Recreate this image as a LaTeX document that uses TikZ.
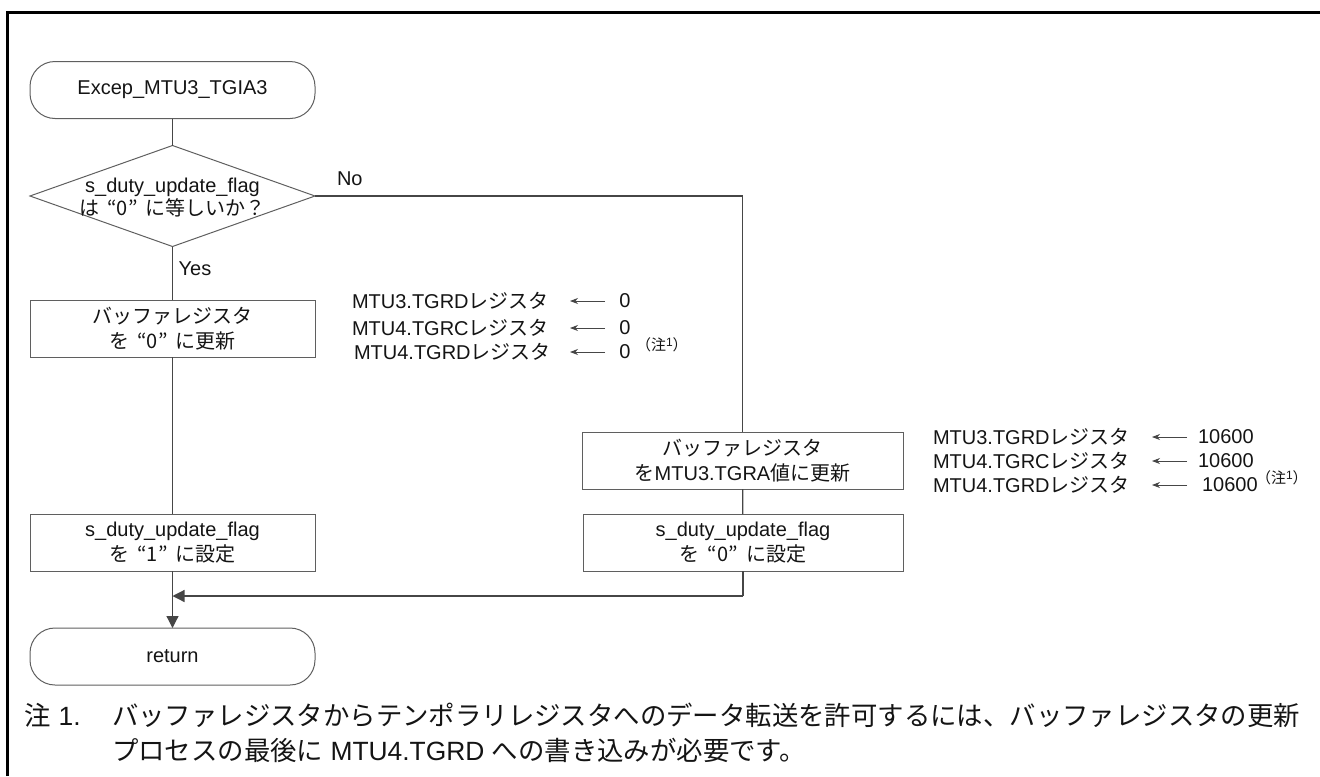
\documentclass[tikz,border=0pt]{standalone}
\usepackage{fontspec}
\setmainfont{Liberation Sans}
\newfontfamily\jp{Noto Sans CJK JP}
\usetikzlibrary{shapes.geometric,arrows.meta}
\definecolor{ln}{RGB}{70,70,70}
\definecolor{bd}{RGB}{95,95,95}
\definecolor{tx}{RGB}{20,20,20}
\newcommand\jpquote[1]{\hspace{0.4em}“#1”\hspace{0.4em}}
\begin{document}
\begin{tikzpicture}[x=0.5pt,y=-0.5pt,
  every node/.style={inner sep=0pt, outer sep=0pt, text=tx, font=\fontsize{10}{12.5}\selectfont},
  term/.style={draw=bd, line width=0.5pt, rounded corners=12.5pt, minimum width=142.5pt, minimum height=28.5pt, align=center},
  procbox/.style={draw=bd, line width=0.5pt, minimum height=28.5pt, align=center},
  conn/.style={draw=ln, line width=0.6pt},
  arr/.style={conn, -{Triangle[length=6pt,width=6pt]}},
  ann/.style={anchor=west},
  annarr/.style={draw=ln, line width=0.4pt, -{Stealth[length=4pt,width=3pt]}},
  notefont/.style={font=\fontsize{13.2}{16}\selectfont},
  supnote/.style={anchor=west, font=\fontsize{7.5}{8}\selectfont}
]
\useasboundingbox (0,0) rectangle (1320,776);
\coordinate (fbl) at (7,776);
\coordinate (ftl) at (7,12);
\coordinate (ftr) at (1320,12);
\draw[line width=1.5pt, black] (fbl) -- (ftl) -- (ftr);

% flow nodes
\node[term] (start) at (172.5,90) {Excep\_MTU3\_TGIA3};
\node[diamond, draw=bd, line width=0.5pt, minimum width=142.5pt, minimum height=50.5pt] (dec) at (172.5,196) {};
\node[align=center, font=\fontsize{10}{11.5}\selectfont] (dect) at (172.5,198) {s\_duty\_update\_flag\\{\jp は\jpquote{0}に等しいか？}};
\node[procbox, minimum width=142.5pt] (b1) at (172.5,328.5) {{\jp バッファレジスタ}\\{\jp を\jpquote{0}に更新}};
\node[procbox, minimum width=142.5pt] (b2) at (172.5,542.5) {s\_duty\_update\_flag\\{\jp を\jpquote{1}に設定}};
\node[procbox, minimum width=160.5pt] (r1) at (742.5,460.5) {{\jp バッファレジスタ}\\{\jp を}MTU3.TGRA{\jp 値に更新}};
\node[procbox, minimum width=160pt] (r2) at (743,542.5) {s\_duty\_update\_flag\\{\jp を\jpquote{0}に設定}};
\node[term] (ret) at (172.5,656.5) {return};

% labels
\node[anchor=west] (no) at (337,179) {No};
\node (yes) at (195,269) {Yes};

% connectors
\draw[conn] (start) -- (dec);
\draw[conn] (dec.south) -- (b1);
\draw[conn] (b1) -- (b2);
\draw[arr] (b2) -- (ret);
\draw[conn] (dec.east) -| (r1.north);
\draw[conn] (r1) -- (r2);
\coordinate (m) at (743,596);
\draw[conn] (r2.south) -- (m);
\draw[arr] (m) -- (b2.south |- m);

% annotations group 1
\node[ann] (a1) at (352,301) {MTU3.TGRD{\jp レジスタ}};
\node[ann] (a2) at (352,328) {MTU4.TGRC{\jp レジスタ}};
\node[ann] (a3) at (354,352) {MTU4.TGRD{\jp レジスタ}};
\node (v1) at (625,301) {0};
\node (v2) at (625,328) {0};
\node (v3) at (625,352) {0};
\node[supnote] (s1) at (636,345) {{\jp （注}\raisebox{2pt}{\fontsize{6}{6}\selectfont 1}{\jp ）}};
\coordinate (p1s) at (605,301); \coordinate (p1e) at (570,301);
\coordinate (p2s) at (605,328); \coordinate (p2e) at (570,328);
\coordinate (p3s) at (605,352); \coordinate (p3e) at (570,352);
\draw[annarr] (p1s) -- (p1e);
\draw[annarr] (p2s) -- (p2e);
\draw[annarr] (p3s) -- (p3e);

% annotations group 2
\node[ann] (a4) at (933,437) {MTU3.TGRD{\jp レジスタ}};
\node[ann] (a5) at (933,461) {MTU4.TGRC{\jp レジスタ}};
\node[ann] (a6) at (933,485) {MTU4.TGRD{\jp レジスタ}};
\node[ann] (v4) at (1198,437) {10600};
\node[ann] (v5) at (1198,461) {10600};
\node[ann] (v6) at (1202,485) {10600};
\node[supnote] (s2) at (1256,478) {{\jp （注}\raisebox{2pt}{\fontsize{6}{6}\selectfont 1}{\jp ）}};
\coordinate (q1s) at (1187,437); \coordinate (q1e) at (1152,437);
\coordinate (q2s) at (1187,461); \coordinate (q2e) at (1152,461);
\coordinate (q3s) at (1187,485); \coordinate (q3e) at (1152,485);
\draw[annarr] (q1s) -- (q1e);
\draw[annarr] (q2s) -- (q2e);
\draw[annarr] (q3s) -- (q3e);

% note
\node[anchor=west, notefont] (n0) at (25,715) {{\jp 注} 1.};
\node[anchor=west, notefont] (n1) at (112,715) {\jp バッファレジスタからテンポラリレジスタへのデータ転送を許可するには、バッファレジスタの更新};
\node[anchor=west, notefont] (n2) at (112,750) {{\jp プロセスの最後に} MTU4.TGRD {\jp への書き込みが必要です。}};
\end{tikzpicture}
\end{document}
